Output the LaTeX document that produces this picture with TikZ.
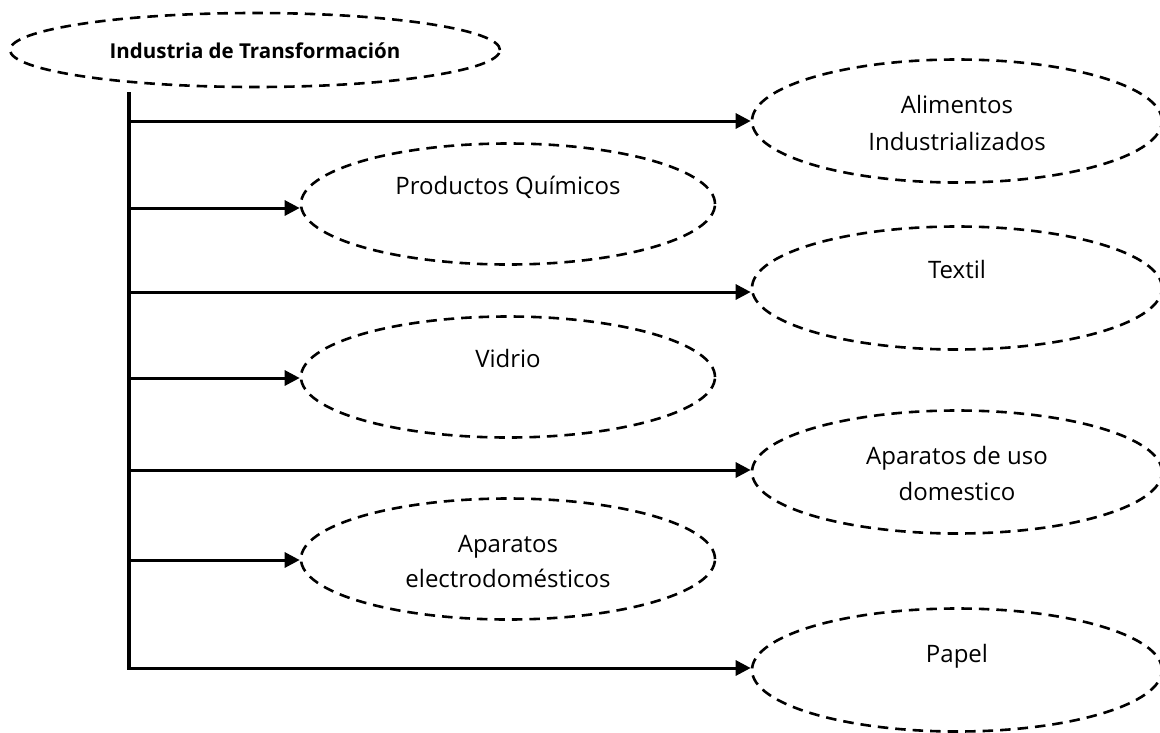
\documentclass[tikz,border=0pt]{standalone}
\usepackage{fontspec}
\setmainfont{Open Sans}
\usetikzlibrary{arrows.meta,shapes.geometric}
\begin{document}
\begin{tikzpicture}[x=1pt,y=-1pt,
  oval/.style={draw, ellipse, dash pattern=on 10.5pt off 7pt, line width=2.6pt, inner sep=0pt},
  ovalL/.style={oval, minimum width=414pt, minimum height=121pt},
  ovalR/.style={oval, minimum width=410pt, minimum height=123pt},
  lbl/.style={inner sep=0pt, anchor=base, font=\fontsize{24}{29}\selectfont},
  conn/.style={line width=3pt, -{Triangle[length=15pt,width=15pt]}},
  trunk/.style={line width=4pt}]
\useasboundingbox (0,0) rectangle (1160,732);
\clip (0,0) rectangle (1160,732);
% root
\node[oval, minimum width=490pt, minimum height=74pt] (root) at (255,50) {};
\node[inner sep=0pt, anchor=base, font=\fontsize{20.5}{25}\selectfont\bfseries] (rootT) at (255,58) {Industria de Transformación};
% targets
\node[ovalR] (alim) at (957,121) {};
\node[lbl] (alimT1) at (957,113) {Alimentos};
\node[lbl] (alimT2) at (957,150) {Industrializados};
\node[ovalL] (prod) at (508,204) {};
\node[lbl] (prodT) at (508,194) {Productos Químicos};
\node[ovalR] (text) at (957,288) {};
\node[lbl] (textT) at (957,278) {Textil};
\node[ovalL] (vidr) at (508,377) {};
\node[lbl] (vidrT) at (508,367) {Vidrio};
\node[ovalR] (apar) at (957,472) {};
\node[lbl] (aparT1) at (957,464) {Aparatos de uso};
\node[lbl] (aparT2) at (957,500) {domestico};
\node[ovalL] (elec) at (508,559) {};
\node[lbl] (elecT1) at (508,552) {Aparatos};
\node[lbl] (elecT2) at (508,587) {electrodomésticos};
\node[ovalR] (pape) at (957,670) {};
\node[lbl] (papeT) at (957,662) {Papel};
% trunk
\coordinate (tt) at (129,92);
\coordinate (t1) at (129,121);
\coordinate (t2) at (129,208);
\coordinate (t3) at (129,292);
\coordinate (t4) at (129,378);
\coordinate (t5) at (129,470);
\coordinate (t6) at (129,560);
\coordinate (t7) at (129,668);
\draw[trunk] (tt) -- ([yshift=-1.5pt]t7);
\draw[conn] ([xshift=-1pt]t1) -- (t1 -| alim.west);
\draw[conn] ([xshift=-1pt]t2) -- (t2 -| prod.west);
\draw[conn] ([xshift=-1pt]t3) -- (t3 -| text.west);
\draw[conn] ([xshift=-1pt]t4) -- (t4 -| vidr.west);
\draw[conn] ([xshift=-1pt]t5) -- (t5 -| apar.west);
\draw[conn] ([xshift=-1pt]t6) -- (t6 -| elec.west);
\draw[conn] ([xshift=-2pt]t7) -- (t7 -| pape.west);
\end{tikzpicture}
\end{document}
